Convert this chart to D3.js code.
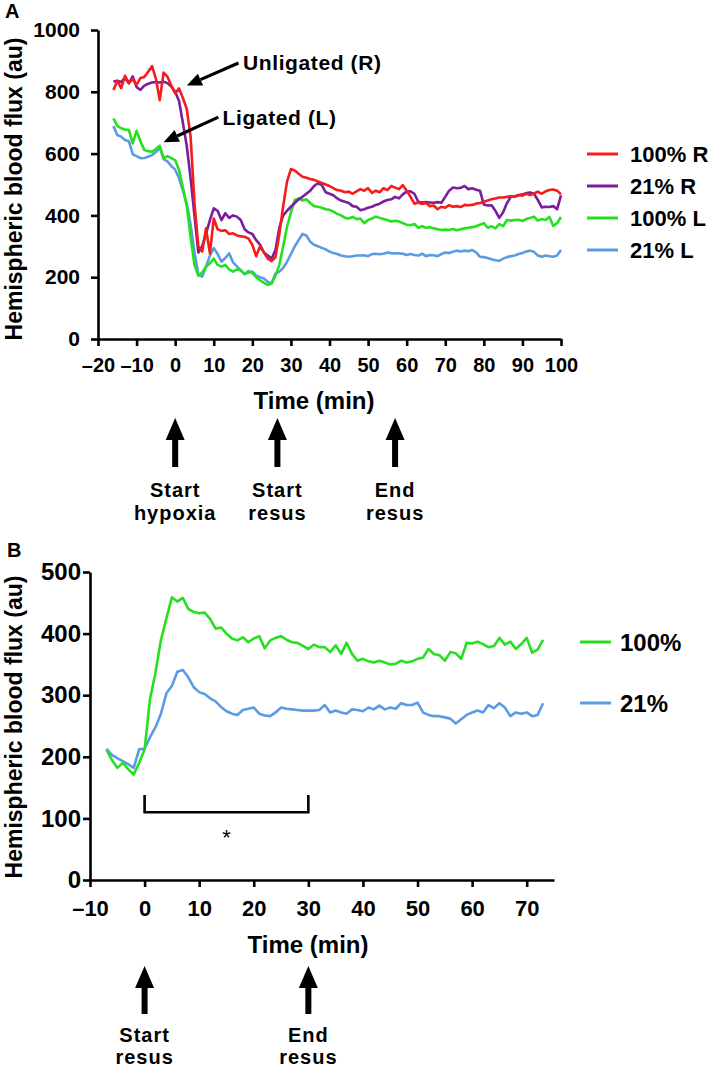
<!DOCTYPE html>
<html><head><meta charset="utf-8">
<script src="https://cdn.jsdelivr.net/npm/d3@7"></script>
<style>body{margin:0;background:#fff;} svg{display:block;}</style>
</head><body>
<svg id="c" width="709" height="1071"></svg>
<script>
// ---------- DATA ----------
// Panel A: time (min) sampled every minute, -16 .. 100
const timeA = d3.range(-16, 101);
const flux100R = [806,835,812,852,828,842,822,845,848,865,
 883,843,773,862,849,820,795,811,780,745,
 655,440,300,283,358,277,390,355,350,352,
 340,342,335,332,331,325,305,268,300,280,
 260,252,265,340,430,510,550,545,535,525,
 522,518,515,510,505,500,495,488,482,480,
 475,477,470,478,485,480,488,473,480,475,
 488,482,495,490,485,498,480,460,438,442,
 437,440,430,432,420,428,425,433,428,430,
 427,434,433,434,438,440,444,448,452,455,
 458,458,460,462,460,466,464,470,466,471,
 477,470,478,482,484,480,468];
const flux21R = [833,836,832,845,828,850,815,806,820,826,
 830,832,830,833,828,817,800,770,700,625,
 520,400,280,300,340,385,423,415,385,407,
 392,400,396,385,355,345,340,320,305,280,
 270,260,288,360,400,415,428,440,452,460,
 470,480,495,504,498,475,470,465,455,448,
 444,440,430,428,417,420,425,428,434,438,
 445,450,452,460,455,468,477,478,470,444,
 442,443,442,441,443,441,460,480,490,488,
 489,495,485,488,483,480,435,432,433,415,
 392,410,440,460,462,465,468,472,474,470,
 450,426,428,427,430,420,465];
const flux100L = [714,690,682,678,676,633,674,640,612,608,
 606,615,625,585,592,585,579,547,490,430,
 330,240,205,215,234,245,260,240,234,240,
 225,218,225,223,210,220,213,200,190,182,
 175,180,205,240,300,363,410,450,455,448,
 452,440,430,428,425,420,418,412,405,400,
 392,390,395,388,390,375,385,390,396,392,
 388,385,380,383,380,375,370,368,372,360,
 365,360,362,358,355,353,354,353,356,352,
 355,358,360,362,365,370,375,360,365,358,
 372,365,385,383,385,386,382,388,392,396,
 383,388,385,395,366,375,395];
const flux21L = [689,660,655,644,640,598,592,585,586,590,
 595,605,620,582,575,560,548,520,480,439,
 370,280,210,202,234,270,294,275,250,262,
 277,248,235,222,210,215,218,205,200,196,
 185,180,212,218,230,250,275,300,320,340,
 335,315,305,300,295,290,283,278,275,270,
 268,266,268,270,270,271,268,275,276,274,
 276,280,278,277,277,276,272,275,272,270,
 276,268,272,271,268,275,280,278,282,286,
 283,286,284,288,280,266,265,262,258,255,
 253,260,265,268,270,275,278,283,286,282,
 270,266,270,268,266,270,288];
const seriesNamesA = ["100% R","21% R","100% L","21% L"];
const xTicksA = [-20,-10,0,10,20,30,40,50,60,70,80,90,100];
const yTicksA = [0,200,400,600,800,1000];
const eventTimesA = [0, 26.5, 57];
const eventLabelsA = [["Start","hypoxia"],["Start","resus"],["End","resus"]];

// Panel B: time (min) sampled every minute, -7 .. 73
const timeB = d3.range(-7, 74);
const fluxB100 = [212,195,182,190,180,171,190,212,294,337,
 390,425,459,452,458,440,435,433,434,424,
 408,410,400,392,389,394,386,392,396,376,
 389,393,396,390,386,385,380,375,382,378,
 378,370,381,367,385,367,356,359,355,353,
 356,353,350,351,356,353,355,359,361,375,
 367,365,356,370,368,359,385,384,387,383,
 378,380,393,382,387,375,383,393,369,374,
 390];
const fluxB21 = [213,203,198,193,188,182,212,213,232,248,
 270,303,315,338,341,329,313,305,302,295,
 290,281,274,270,268,276,278,280,270,267,
 266,272,280,278,277,276,275,275,275,276,
 284,272,275,272,270,277,276,274,280,277,
 283,277,280,278,287,284,284,288,272,268,
 266,266,264,262,254,261,268,272,275,272,
 284,279,287,280,266,272,270,272,266,268,
 287];
const seriesNamesB = ["100%","21%"];
const xTicksB = [-10,0,10,20,30,40,50,60,70];
const yTicksB = [0,100,200,300,400,500];
const eventTimesB = [0, 30];
const eventLabelsB = [["Start","resus"],["End","resus"]];

// ---------- STYLE ----------
const FONT = '"Liberation Sans", Arial, Helvetica, sans-serif';
const colors = {r100:"#f41c1c", r21:"#7a1e9e", l100:"#25e01e", l21:"#5b9be6"};
const AXW = 2.6, LW = 2.6;
const svg = d3.select("#c");
const fmt = d => d < 0 ? "\u2013" + Math.abs(d) : String(d);

function styleAxis(g, fs){
  g.attr("font-family", null).attr("font-size", null);
  g.select(".domain").attr("stroke","#000").attr("stroke-width",AXW);
  g.selectAll(".tick line").attr("stroke","#000").attr("stroke-width",AXW);
  g.selectAll(".tick text").attr("font-family",FONT).attr("font-weight","bold")
    .attr("font-size",fs).attr("fill","#000");
}
function blockArrow(x, top, bottom){
  const hw = 9.5, hh = 22, sw = 3;
  return `M${x},${top}L${x+hw},${top+hh}L${x+sw},${top+hh}L${x+sw},${bottom}L${x-sw},${bottom}L${x-sw},${top+hh}L${x-hw},${top+hh}Z`;
}
function pointerArrow(g, x1, y1, x2, y2){
  const L = 15, W = 13;
  const dx = x2-x1, dy = y2-y1, len = Math.hypot(dx,dy);
  const ux = dx/len, uy = dy/len, nx = -uy, ny = ux;
  const bx = x2-ux*L, by = y2-uy*L;
  g.append("line").attr("x1",x1).attr("y1",y1).attr("x2",bx).attr("y2",by)
    .attr("stroke","#000").attr("stroke-width",3.2);
  g.append("path").attr("d",`M${x2},${y2}L${bx+nx*W/2},${by+ny*W/2}L${bx-nx*W/2},${by-ny*W/2}Z`).attr("fill","#000");
}
function yTitle(x, y, fs){
  svg.append("text").attr("transform",`translate(${x},${y}) rotate(-90)`)
    .attr("text-anchor","middle").attr("font-family",FONT).attr("font-weight","bold")
    .attr("font-size",fs).text("Hemispheric blood flux (au)");
}

// ---------- PANEL A ----------
const xA = d3.scaleLinear().domain([-20,100]).range([98,561]);
const yA = d3.scaleLinear().domain([0,1000]).range([339,30]);
const gA = svg.append("g");

gA.append("g").attr("transform",`translate(0,${yA(0)})`)
  .call(d3.axisBottom(xA).tickValues(xTicksA).tickFormat(fmt).tickSize(7).tickSizeOuter(0).tickPadding(12))
  .call(g => styleAxis(g, 20));
gA.append("g").attr("transform",`translate(${xA(-20)},0)`)
  .call(d3.axisLeft(yA).tickValues(yTicksA).tickFormat(fmt).tickSize(7).tickSizeOuter(0).tickPadding(11))
  .call(g => styleAxis(g, 21));

const lineA = d3.line().x((d,i)=>xA(timeA[i])).y(d=>yA(d));
const seriesA = [flux100R, flux21R, flux100L, flux21L];
const colorsA = [colors.r100, colors.r21, colors.l100, colors.l21];
[3,2,1,0].forEach(k=>{
  gA.append("path").datum(seriesA[k]).attr("d",lineA).attr("fill","none")
    .attr("stroke",colorsA[k]).attr("stroke-width",LW).attr("stroke-linejoin","round");
});

// legend A
seriesNamesA.forEach((n,i)=>{
  const ly = 154 + i*32;
  gA.append("line").attr("x1",587).attr("x2",618).attr("y1",ly).attr("y2",ly)
    .attr("stroke",colorsA[i]).attr("stroke-width",3);
  gA.append("text").attr("x",630).attr("y",ly+8).attr("font-family",FONT).attr("font-weight","bold")
    .attr("font-size",22).text(n);
});

// annotations A
pointerArrow(gA, xA(16.4), yA(893), xA(3), yA(820));
gA.append("text").attr("x",xA(17.6)).attr("y",yA(870)).attr("font-family",FONT).attr("font-weight","bold")
  .attr("font-size",21).attr("letter-spacing",0.6).text("Unligated (R)");
pointerArrow(gA, xA(11.2), yA(718), xA(-3), yA(637));
gA.append("text").attr("x",xA(12.3)).attr("y",yA(692)).attr("font-family",FONT).attr("font-weight","bold")
  .attr("font-size",21).attr("letter-spacing",0.6).text("Ligated (L)");

// axis titles A
gA.append("text").attr("x",314).attr("y",409).attr("text-anchor","middle").attr("font-family",FONT)
  .attr("font-weight","bold").attr("font-size",24).text("Time (min)");
yTitle(22, 189, 23);
svg.append("text").attr("x",5).attr("y",18).attr("font-family",FONT).attr("font-weight","bold")
  .attr("font-size",20).text("A");

// event arrows A
eventTimesA.forEach((t,i)=>{
  const x = xA(t);
  gA.append("path").attr("d",blockArrow(x,418,467)).attr("fill","#000");
  eventLabelsA[i].forEach((s,j)=>{
    gA.append("text").attr("x",x).attr("y",497+j*23).attr("text-anchor","middle")
      .attr("font-family",FONT).attr("font-weight","bold").attr("font-size",20)
      .attr("letter-spacing",1).text(s);
  });
});

// ---------- PANEL B ----------
const xB = d3.scaleLinear().domain([-10,75]).range([90,554]);
const yB = d3.scaleLinear().domain([0,500]).range([880,572]);
const gB = svg.append("g");

gB.append("g").attr("transform",`translate(0,${yB(0)})`)
  .call(d3.axisBottom(xB).tickValues(xTicksB).tickFormat(fmt).tickSize(7).tickSizeOuter(0).tickPadding(13))
  .call(g => styleAxis(g, 22));
gB.append("g").attr("transform",`translate(${xB(-10)},0)`)
  .call(d3.axisLeft(yB).tickValues(yTicksB).tickFormat(fmt).tickSize(7).tickSizeOuter(0).tickPadding(2))
  .call(g => styleAxis(g, 24));

const lineB = d3.line().x((d,i)=>xB(timeB[i])).y(d=>yB(d));
const seriesB = [fluxB100, fluxB21];
const colorsB = [colors.l100, colors.l21];
[1,0].forEach(k=>{
  gB.append("path").datum(seriesB[k]).attr("d",lineB).attr("fill","none")
    .attr("stroke",colorsB[k]).attr("stroke-width",LW).attr("stroke-linejoin","round");
});

seriesNamesB.forEach((n,i)=>{
  const ly = 642 + i*61;
  gB.append("line").attr("x1",580).attr("x2",611).attr("y1",ly).attr("y2",ly)
    .attr("stroke",colorsB[i]).attr("stroke-width",3);
  gB.append("text").attr("x",620).attr("y",ly+9).attr("font-family",FONT).attr("font-weight","bold")
    .attr("font-size",24).text(n);
});

// significance bracket
gB.append("path").attr("d",`M${xB(0)},${yB(138)}V${yB(110)}H${xB(30)}V${yB(138)}`)
  .attr("fill","none").attr("stroke","#000").attr("stroke-width",AXW);
gB.append("text").attr("x",xB(15)).attr("y",845).attr("text-anchor","middle")
  .attr("font-family",FONT).attr("font-size",22).text("*");

gB.append("text").attr("x",308).attr("y",953).attr("text-anchor","middle").attr("font-family",FONT)
  .attr("font-weight","bold").attr("font-size",24).text("Time (min)");
yTitle(22, 727, 23);
svg.append("text").attr("x",7).attr("y",557).attr("font-family",FONT).attr("font-weight","bold")
  .attr("font-size",20).text("B");

eventTimesB.forEach((t,i)=>{
  const x = xB(t);
  gB.append("path").attr("d",blockArrow(x,966,1014)).attr("fill","#000");
  eventLabelsB[i].forEach((s,j)=>{
    gB.append("text").attr("x",x).attr("y",1042+j*22).attr("text-anchor","middle")
      .attr("font-family",FONT).attr("font-weight","bold").attr("font-size",20)
      .attr("letter-spacing",1).text(s);
  });
});
</script>
</body></html>
